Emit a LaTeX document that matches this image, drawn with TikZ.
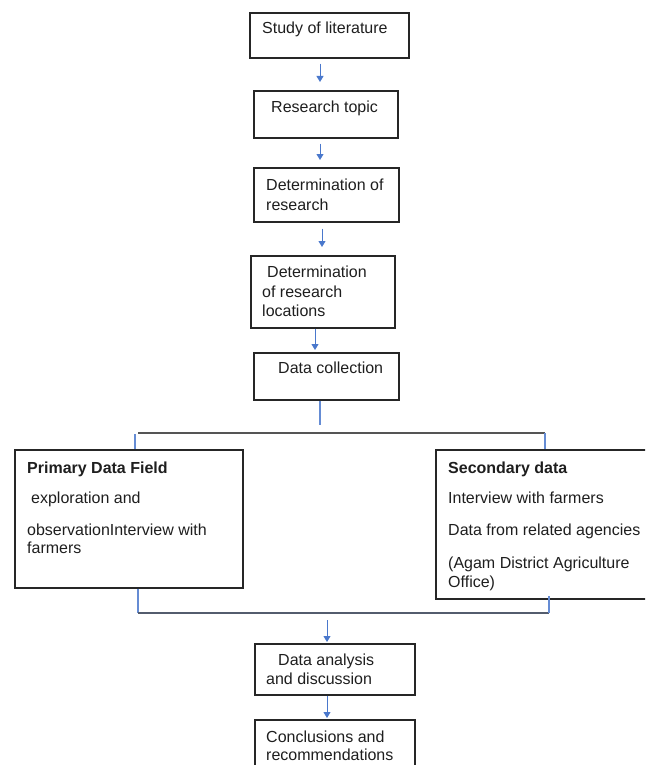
\documentclass[tikz,border=0pt]{standalone}
\usepackage{fontspec}
\setmainfont{Liberation Sans}
\usetikzlibrary{arrows.meta}
\definecolor{arrblue}{HTML}{4A78CC}
\definecolor{txt}{HTML}{1E1E1E}
\definecolor{linegray}{HTML}{555555}
\tikzset{
  box/.style={draw=black!85, line width=1.6pt, rectangle, anchor=north west, inner sep=0pt},
  lbl/.style={anchor=base west, inner sep=0pt, text=txt, font=\fontsize{16}{19}\selectfont},
  blbl/.style={lbl, font=\fontsize{16}{19}\selectfont\bfseries},
  arr/.style={draw=arrblue, line width=1pt, -{Triangle[width=7pt,length=6pt]}},
  bline/.style={draw=arrblue!85, line width=1.2pt},
  kline/.style={draw=linegray, line width=1.4pt}
}
\begin{document}
\begin{tikzpicture}[x=1pt,y=-1pt]
\useasboundingbox (0,0) rectangle (645,765);
\clip (0,0) rectangle (645,765);
% boxes
\node[box, minimum width=159pt, minimum height=45pt] (b1) at (249,12) {};
\node[box, minimum width=144pt, minimum height=47pt] (b2) at (253,90) {};
\node[box, minimum width=145pt, minimum height=54pt] (b3) at (253,167) {};
\node[box, minimum width=144pt, minimum height=72pt] (b4) at (250,255) {};
\node[box, minimum width=145pt, minimum height=47pt] (b5) at (253,352) {};
\node[box, minimum width=228pt, minimum height=138pt] (bp) at (14,449) {};
\node[box, minimum width=260pt, minimum height=149pt] (bs) at (435,449) {};
\node[box, minimum width=160pt, minimum height=51pt] (b6) at (254,643) {};
\node[box, minimum width=160pt, minimum height=60pt] (b7) at (254,719) {};
% texts
\node[lbl] (t1) at (262,34) {Study of literature};
\node[lbl] (t2) at (271,113) {Research topic};
\node[lbl] (t3a) at (266,190) {Determination of};
\node[lbl] (t3b) at (266,210) {research};
\node[lbl] (t4a) at (267,277) {Determination};
\node[lbl] (t4b) at (262,297) {of research};
\node[lbl] (t4c) at (262,316) {locations};
\node[lbl] (t5) at (278,373) {Data collection};
\node[blbl] (tpa) at (27,473) {Primary Data Field};
\node[lbl] (tpb) at (31,503) {exploration and};
\node[lbl] (tpc) at (27,535) {observationInterview with};
\node[lbl] (tpd) at (27,553) {farmers};
\node[blbl] (tsa) at (448,473) {Secondary data};
\node[lbl] (tsb) at (448,503) {Interview with farmers};
\node[lbl] (tsc) at (448,535) {Data from related agencies};
\node[lbl] (tsd) at (448,568) {(Agam District Agriculture};
\node[lbl] (tse) at (448,587) {Office)};
\node[lbl] (t6a) at (278,665) {Data analysis};
\node[lbl] (t6b) at (266,684) {and discussion};
\node[lbl] (t7a) at (266,742) {Conclusions and};
\node[lbl] (t7b) at (266,760) {recommendations};
% connectors
\draw[arr] ([yshift=-5pt]b1.south -| 320,0) -- ([yshift=8pt]b2.north -| 320,0);
\draw[arr] ([yshift=-5pt]b2.south -| 320,0) -- ([yshift=7pt]b3.north -| 320,0);
\draw[arr] ([yshift=-6pt]b3.south -| 322,0) -- ([yshift=8pt]b4.north -| 322,0);
\draw[arr] (b4.south -| 315,0) -- ([yshift=2pt]b5.north -| 315,0);
\coordinate (hl) at (138,433);
\coordinate (hr) at (545,433);
\draw[bline] (b5.south -| 320,0) -- (320,425);
\draw[kline] (hl) -- (hr);
\draw[bline] ([yshift=-1pt]hl -| 135,0) -- (bp.north -| 135,0);
\draw[bline] (hr) -- (bs.north -| hr);
\coordinate (ll) at (138,613);
\coordinate (lr) at (549,613);
\draw[bline] (bp.south -| ll) -- (ll);
\draw[kline, draw=linegray!80!arrblue] (ll) -- (lr);
\draw[bline] (lr) -- ([yshift=4pt]bs.south -| lr);
\draw[arr] (327,620) -- ([yshift=1pt]b6.north -| 327,0);
\draw[arr] (b6.south -| 327,0) -- ([yshift=1pt]b7.north -| 327,0);
\end{tikzpicture}
\end{document}
